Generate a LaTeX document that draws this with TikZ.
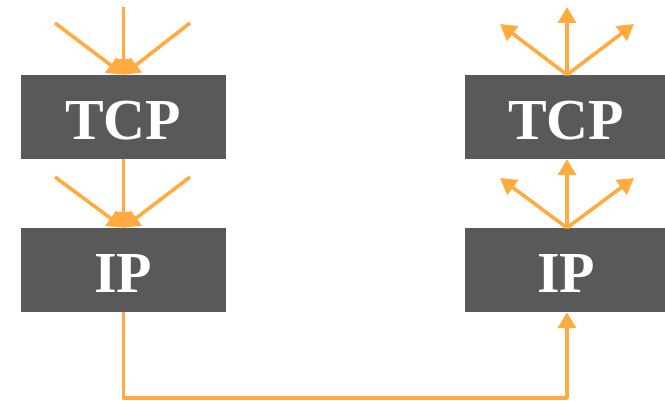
\documentclass[tikz,border=0pt]{standalone}
\usepackage{fontspec}
\setmainfont{Liberation Serif}
\usetikzlibrary{arrows.meta}
\definecolor{boxgray}{HTML}{595959}
\definecolor{arrorange}{HTML}{FFAB40}
\begin{document}
\begin{tikzpicture}[x=1pt,y=-1pt,
  layerbox/.style={fill=boxgray,draw=none,minimum width=205pt,minimum height=84pt,inner sep=0pt},
  layertext/.style={text=white,font=\fontsize{58}{60}\selectfont\bfseries,anchor=base,inner sep=0pt},
  flow/.style={draw=arrorange,line width=3.6pt,line join=round,-{Triangle[length=16pt,width=18pt]}}]
\useasboundingbox (0,0) rectangle (665,401);
\clip (0,0) rectangle (665,401);
\node[layerbox] (ltcp) at (123.5,117) {};
\node[layerbox] (lip) at (123.5,270) {};
\node[layerbox] (rtcp) at (567,117) {};
\node[layerbox] (rip) at (567,270) {};
\node[layertext] (ltcpt) at (123,140) {TCP};
\node[layertext] (lipt) at (123,293) {IP};
\node[layertext] (rtcpt) at (566,140) {TCP};
\node[layertext] (ript) at (566,293) {IP};
% left top
\coordinate (a1) at (55,23);
\coordinate (a2) at (123.5,7);
\coordinate (a3) at (190,23);
\draw[flow] (a1) -- (ltcp.north);
\draw[flow] (a2) -- (ltcp.north);
\draw[flow] (a3) -- (ltcp.north);
% left middle
\coordinate (b1) at (55,177);
\coordinate (b3) at (190,177);
\draw[flow] (b1) -- (lip.north);
\draw[flow] (ltcp.south) -- (lip.north);
\draw[flow] (b3) -- (lip.north);
% right top
\coordinate (c1) at (500,24);
\coordinate (c2) at (567,7);
\coordinate (c3) at (634,24);
\draw[flow] (rtcp.north) -- (c1);
\draw[flow] (rtcp.north) -- (c2);
\draw[flow] (rtcp.north) -- (c3);
% right middle
\coordinate (d1) at (500,178);
\coordinate (d3) at (634,178);
\draw[flow] (rip.north) -- (d1);
\draw[flow] (rip.north) -- (rtcp.south);
\draw[flow] (rip.north) -- (d3);
% bottom
\coordinate (e1) at (123.5,398);
\draw[flow] (lip.south) -- (e1) -| (rip.south);
\end{tikzpicture}
\end{document}
